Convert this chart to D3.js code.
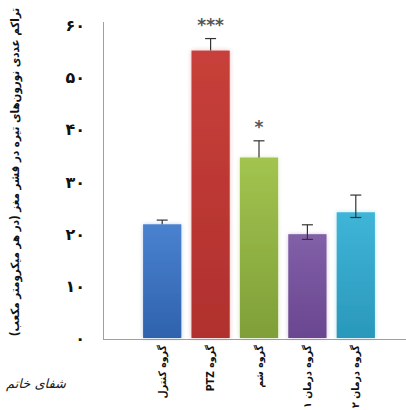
<!DOCTYPE html>
<html lang="fa">
<head>
<meta charset="utf-8">
<script src="https://cdn.jsdelivr.net/npm/d3@7"></script>
<style>
  html, body { margin: 0; padding: 0; background: #fff; }
  svg { display: block; }
</style>
</head>
<body>
<svg id="chart" width="406" height="410"></svg>
<script>
// Dark neuron density per group (per cubic micrometre)
const groups = ["گروه کنترل", "گروه PTZ", "گروه شم", "گروه درمان ۱", "گروه درمان ۲"];
const values = [21.8, 55.1, 34.6, 19.9, 24.1];
const errPlus = [0.8, 2.3, 3.2, 1.8, 3.3];
const errMinus = [0, 0, 0, 1.0, 1.0];
const significance = ["", "***", "*", "", ""];
const yTicks = [0, 10, 20, 30, 40, 50, 60];
const yTickLabels = ["۰", "۱۰", "۲۰", "۳۰", "۴۰", "۵۰", "۶۰"];
const barColors = [
  ["#4a82cf", "#2f62ad"],
  ["#c8403a", "#b0302e"],
  ["#a2c44f", "#7f9f38"],
  ["#8160a8", "#6a4690"],
  ["#3fb5d8", "#2a98ba"]
];
const yTitle = "تراکم عددی نورون‌های تیره در قشر مغز (در هر میکرومتر مکعب)";

const svg = d3.select("#chart");
const fontAr = "'DejaVu Sans', 'Noto Sans', sans-serif";
const fontArNarrow = "'DejaVu Sans Condensed', 'DejaVu Sans', sans-serif";

const x = d3.scaleBand().domain(groups).range([138, 380]).paddingInner(0.21).paddingOuter(0.105);
const y = d3.scaleLinear().domain([0, 60]).range([338, 25]);

const defs = svg.append("defs");
barColors.forEach((c, i) => {
  const g = defs.append("linearGradient").attr("id", "g" + i)
    .attr("x1", 0).attr("y1", 0).attr("x2", 0).attr("y2", 1);
  g.append("stop").attr("offset", "0%").attr("stop-color", c[0]);
  g.append("stop").attr("offset", "100%").attr("stop-color", c[1]);
});
const glow = defs.append("filter").attr("id", "glow")
  .attr("x", "-30%").attr("y", "-10%").attr("width", "160%").attr("height", "120%");
glow.append("feGaussianBlur").attr("in", "SourceGraphic").attr("stdDeviation", 2).attr("result", "b");
glow.append("feComponentTransfer").attr("in", "b").attr("result", "bt")
  .append("feFuncA").attr("type", "linear").attr("slope", 0.35);
const merge = glow.append("feMerge");
merge.append("feMergeNode").attr("in", "bt");
merge.append("feMergeNode").attr("in", "SourceGraphic");

// Axes lines
svg.append("line").attr("x1", 103.5).attr("x2", 103.5).attr("y1", 22).attr("y2", y(0) + 1)
  .attr("stroke", "#a0a0a0").attr("stroke-width", 1);
svg.append("line").attr("x1", 103).attr("x2", 406).attr("y1", y(0) + 1.5).attr("y2", y(0) + 1.5)
  .attr("stroke", "#a0a0a0").attr("stroke-width", 1);

// Y tick labels
const yAxis = d3.axisLeft(y).tickValues(yTicks)
  .tickFormat((d, i) => yTickLabels[i]).tickSize(0).tickPadding(0);
const ya = svg.append("g").attr("transform", "translate(85,0)").call(yAxis);
ya.select(".domain").remove();
ya.selectAll("text").attr("font-family", fontAr).attr("font-size", 16)
  .attr("font-weight", "bold").attr("fill", "#111").attr("dy", "0.35em");

// Bars
svg.append("g").selectAll("rect").data(values).join("rect")
  .attr("x", (d, i) => x(groups[i]))
  .attr("y", d => y(d))
  .attr("width", x.bandwidth())
  .attr("height", d => y(0) - y(d))
  .attr("fill", (d, i) => `url(#g${i})`)
  .attr("filter", "url(#glow)");

// Error bars
const eb = svg.append("g").attr("stroke", "#333").attr("stroke-width", 1.2);
values.forEach((v, i) => {
  const cx = x(groups[i]) + x.bandwidth() / 2;
  const top = y(v + errPlus[i]);
  const bot = y(v - errMinus[i]);
  eb.append("line").attr("x1", cx).attr("x2", cx).attr("y1", top).attr("y2", bot);
  eb.append("line").attr("x1", cx - 5.5).attr("x2", cx + 5.5).attr("y1", top).attr("y2", top);
  if (errMinus[i] > 0) {
    eb.append("line").attr("x1", cx - 5.5).attr("x2", cx + 5.5).attr("y1", bot).attr("y2", bot);
  }
});

// Significance markers
svg.append("g").selectAll("text").data(significance).join("text")
  .attr("x", (d, i) => x(groups[i]) + x.bandwidth() / 2)
  .attr("y", (d, i) => y(values[i] + errPlus[i]) - 8)
  .attr("text-anchor", "middle")
  .attr("font-family", fontAr).attr("font-size", 17).attr("font-weight", "bold")
  .attr("fill", "#555")
  .text(d => d);

// Category labels, rotated to read top-to-bottom below each bar
svg.append("g").selectAll("text").data(groups).join("text")
  .attr("transform", d => `translate(${x(d) + x.bandwidth() / 2},345) rotate(-90)`)
  .attr("text-anchor", "start")
  .attr("dy", "0.35em")
  .attr("direction", "rtl")
  .attr("font-family", fontArNarrow).attr("font-size", 10.5).attr("font-weight", "bold")
  .attr("fill", "#111")
  .text(d => d);

// Y axis title
svg.append("text")
  .attr("transform", "translate(15,172) rotate(-90)")
  .attr("text-anchor", "middle").attr("dy", "0.35em")
  .attr("direction", "rtl")
  .attr("font-family", fontArNarrow).attr("font-size", 11.5).attr("font-weight", "bold")
  .attr("fill", "#111")
  .text(yTitle);

// Logo
svg.append("text")
  .attr("x", 36).attr("y", 388).attr("text-anchor", "middle")
  .attr("direction", "rtl")
  .attr("font-family", fontAr).attr("font-size", 13).attr("font-style", "italic")
  .attr("fill", "#222")
  .text("شفای خاتم");
</script>
</body>
</html>
